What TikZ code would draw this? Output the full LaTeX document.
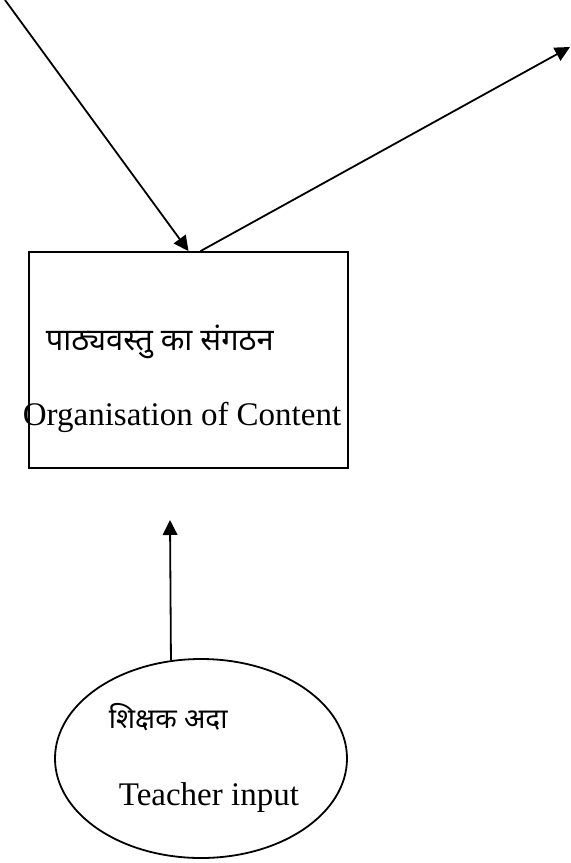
\documentclass[tikz,border=0pt]{standalone}
\usepackage{fontspec}
\setmainfont{Liberation Serif}
\newfontfamily\hindi[Script=Devanagari]{Noto Sans}
\usetikzlibrary{arrows.meta,shapes.geometric}
\begin{document}
\begin{tikzpicture}[x=0.5pt,y=-0.5pt,line width=0.9pt,
  arr/.style={-{Triangle[length=7.5pt,width=7.3pt]}},
  lbl/.style={anchor=base west,inner sep=0pt,font=\fontsize{16.5}{20}\selectfont}]
\useasboundingbox(0,0)rectangle(571,863);
% box
\node[draw,rectangle,minimum width=159.5pt,minimum height=108pt,inner sep=0pt](org)at(188.5,360){};
\node[lbl,font=\fontsize{15.4}{19}\selectfont](orghi)at(45,350){\hindi पाठ्यवस्तु का संगठन};
\node[lbl](orgen)at(22,425){Organisation of Content};
% ellipse
\node[draw,ellipse,minimum width=146pt,minimum height=99.5pt,inner sep=0pt](inp)at(201,758.5){};
\node[lbl,font=\fontsize{14}{17}\selectfont](inphi)at(108,728){\hindi शिक्षक अदा};
\node[lbl](inpen)at(118,805){Teacher input};
% arrows
\coordinate(src)at(5,0);
\coordinate(dst)at(570,47);
\coordinate(tip)at(170,520);
\draw[arr](src)--(org.north);
\draw[arr]([xshift=6pt]org.north)--(dst);
\draw[arr](inp.107.6)--(tip);
\end{tikzpicture}
\end{document}
